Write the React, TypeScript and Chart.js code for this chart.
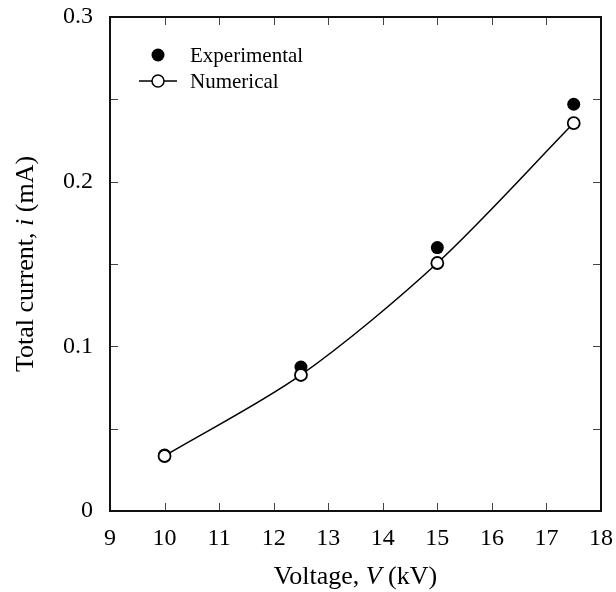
import React, { useEffect, useRef } from "react";
import { Chart, registerables } from "chart.js";

Chart.register(...registerables);

const voltage = [10, 12.5, 15, 17.5];
const experimental = [0.034, 0.0874, 0.16, 0.247];
const numerical = [0.0334, 0.0826, 0.1506, 0.2356];

const xTicks = [9, 10, 11, 12, 13, 14, 15, 16, 17, 18];
const yMinorStep = 0.05;

const SERIF = "'Liberation Serif', 'Times New Roman', serif";

const framePlugin = {
  id: "frameAndText",
  afterDatasetsDraw(chart: any) {
    const { ctx, chartArea: a, scales } = chart;
    const xs = scales.x;
    const ys = scales.y;
    ctx.save();
    // inward ticks
    ctx.strokeStyle = "#444";
    ctx.lineWidth = 1;
    const tl = 8;
    for (const v of xTicks) {
      if (v === xs.min || v === xs.max) continue;
      const px = Math.round(xs.getPixelForValue(v)) + 0.5;
      ctx.beginPath();
      ctx.moveTo(px, a.bottom);
      ctx.lineTo(px, a.bottom - tl);
      ctx.moveTo(px, a.top);
      ctx.lineTo(px, a.top + tl);
      ctx.stroke();
    }
    for (let v = yMinorStep; v < ys.max - 1e-9; v += yMinorStep) {
      const py = Math.round(ys.getPixelForValue(v)) + 0.5;
      ctx.beginPath();
      ctx.moveTo(a.left, py);
      ctx.lineTo(a.left + tl, py);
      ctx.moveTo(a.right, py);
      ctx.lineTo(a.right - tl, py);
      ctx.stroke();
    }
    // frame
    ctx.strokeStyle = "#111";
    ctx.lineWidth = 2;
    ctx.strokeRect(a.left, a.top, a.right - a.left, a.bottom - a.top);

    // legend
    const lx = a.left + 48;
    const ly1 = a.top + 38;
    const ly2 = a.top + 64;
    ctx.fillStyle = "#000";
    ctx.beginPath();
    ctx.arc(lx, ly1, 6.5, 0, Math.PI * 2);
    ctx.fill();
    ctx.strokeStyle = "#000";
    ctx.lineWidth = 1.5;
    ctx.beginPath();
    ctx.moveTo(lx - 19, ly2);
    ctx.lineTo(lx + 19, ly2);
    ctx.stroke();
    ctx.fillStyle = "#fff";
    ctx.beginPath();
    ctx.arc(lx, ly2, 6, 0, Math.PI * 2);
    ctx.fill();
    ctx.stroke();
    ctx.fillStyle = "#000";
    ctx.font = `21px ${SERIF}`;
    ctx.textBaseline = "middle";
    ctx.textAlign = "left";
    ctx.fillText("Experimental", lx + 32, ly1 + 1);
    ctx.fillText("Numerical", lx + 32, ly2 + 1);

    // axis titles with italic symbols
    const drawMixed = (parts: [string, boolean][], cx: number, cy: number) => {
      const fonts = parts.map(([, it]) => `${it ? "italic " : ""}26px ${SERIF}`);
      let total = 0;
      const widths = parts.map(([t], i) => {
        ctx.font = fonts[i];
        const w = ctx.measureText(t).width;
        total += w;
        return w;
      });
      let x = cx - total / 2;
      parts.forEach(([t], i) => {
        ctx.font = fonts[i];
        ctx.fillText(t, x, cy);
        x += widths[i];
      });
    };
    ctx.textBaseline = "middle";
    ctx.textAlign = "left";
    drawMixed(
      [
        ["Voltage, ", false],
        ["V", true],
        [" (kV)", false],
      ],
      (a.left + a.right) / 2,
      577
    );
    ctx.translate(26, (a.top + a.bottom) / 2);
    ctx.rotate(-Math.PI / 2);
    drawMixed(
      [
        ["Total current, ", false],
        ["i", true],
        [" (mA)", false],
      ],
      0,
      0
    );
    ctx.restore();
  },
};

export default function App() {
  const ref = useRef<HTMLCanvasElement>(null);
  useEffect(() => {
    document.body.style.margin = "0";
    if (!ref.current) return;
    const chart = new Chart(ref.current, {
      type: "scatter",
      data: {
        datasets: [
          {
            label: "Numerical",
            data: voltage.map((v, i) => ({ x: v, y: numerical[i] })),
            showLine: true,
            tension: 0.3,
            borderColor: "#000",
            borderWidth: 1.5,
            pointRadius: 6,
            pointBorderWidth: 1.8,
            pointBackgroundColor: "#fff",
            pointBorderColor: "#000",
            pointStyle: "circle",
          },
          {
            label: "Experimental",
            data: voltage.map((v, i) => ({ x: v, y: experimental[i] })),
            showLine: false,
            pointRadius: 6.5,
            pointBorderWidth: 0,
            pointBackgroundColor: "#000",
            pointBorderColor: "#000",
            pointStyle: "circle",
          },
        ],
      },
      options: {
        responsive: false,
        animation: false,
        layout: { padding: { left: 0, right: 15, top: 17, bottom: 0 } },
        plugins: {
          legend: { display: false },
          tooltip: { enabled: false },
          title: { display: false },
        },
        scales: {
          x: {
            type: "linear",
            min: 9,
            max: 18,
            grid: { display: false, drawTicks: false },
            border: { display: false },
            afterBuildTicks: (s: any) => {
              s.ticks = xTicks.map((v) => ({ value: v }));
            },
            ticks: {
              color: "#000",
              font: { family: SERIF, size: 24 },
              padding: 13,
              maxRotation: 0,
              autoSkip: false,
            },
            afterFit: (s: any) => {
              s.height = 81;
              s.paddingLeft = 0;
              s.paddingRight = 0;
            },
          },
          y: {
            type: "linear",
            min: 0,
            max: 0.3,
            grid: { display: false, drawTicks: false },
            border: { display: false },
            ticks: {
              stepSize: 0.1,
              color: "#000",
              font: { family: SERIF, size: 24 },
              padding: 17,
              callback: (v: any) => (Number(v) === 0 ? "0" : Number(v).toFixed(1)),
            },
            afterFit: (s: any) => {
              s.width = 110;
              s.paddingTop = 0;
              s.paddingBottom = 0;
            },
          },
        },
      },
      plugins: [framePlugin],
    } as any);
    return () => chart.destroy();
  }, []);
  return <canvas ref={ref} width={616} height={592} style={{ display: "block" }} />;
}
